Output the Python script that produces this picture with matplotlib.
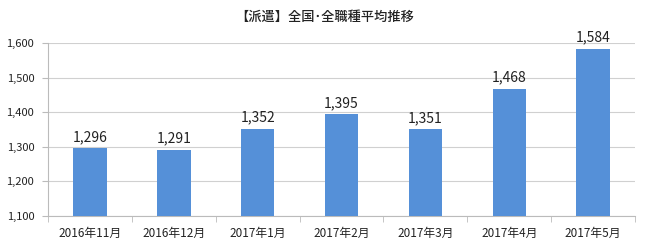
import matplotlib
matplotlib.use("Agg")
import matplotlib.pyplot as plt
from matplotlib.ticker import FuncFormatter, FixedLocator

plt.rcParams['font.family'] = ['Noto Sans CJK JP', 'DejaVu Sans']

categories = ["2016年11月", "2016年12月", "2017年1月", "2017年2月", "2017年3月", "2017年4月", "2017年5月"]
values = [1296, 1291, 1352, 1395, 1351, 1468, 1584]
title = "【派遣】全国･全職種平均推移"

fig = plt.figure(figsize=(6.5, 2.46), dpi=100)
ax = fig.add_axes([0.074, 0.122, 0.903, 0.703])

x = list(range(len(categories)))
ax.bar(x, values, width=0.4, color='#5590D8', zorder=3)
for xi, v in zip(x, values):
    ax.text(xi, v + 12, f"{v:,}", ha='center', va='bottom', fontsize=10, color='#222222')

ax.set_ylim(1100, 1600)
ax.set_xlim(-0.5, len(categories) - 0.5)
ax.set_yticks(range(1100, 1601, 100))
ax.yaxis.set_major_formatter(FuncFormatter(lambda v, p: f"{int(v):,}"))
ax.grid(axis='y', color='#D0D0D0', linewidth=0.8, zorder=0)
ax.set_xticks(x)
ax.set_xticklabels(categories, fontsize=8.5, color='#222222')
ax.tick_params(axis='x', length=0, pad=8)
ax.tick_params(axis='y', length=4, color='#BBBBBB', labelsize=8, labelcolor='#222222', pad=6)
ax.xaxis.set_minor_locator(FixedLocator([i - 0.5 for i in range(len(categories) + 1)]))
ax.tick_params(axis='x', which='minor', length=4, color='#BBBBBB')
for s in ['top', 'right']:
    ax.spines[s].set_visible(False)
ax.spines['left'].set_color('#BBBBBB')
ax.spines['bottom'].set_color('#BBBBBB')

fig.text(0.5, 0.93, title, ha='center', va='center', fontsize=9.5, fontweight='medium', color='#222222')

fig.savefig("out.png", dpi=100, facecolor='white')
